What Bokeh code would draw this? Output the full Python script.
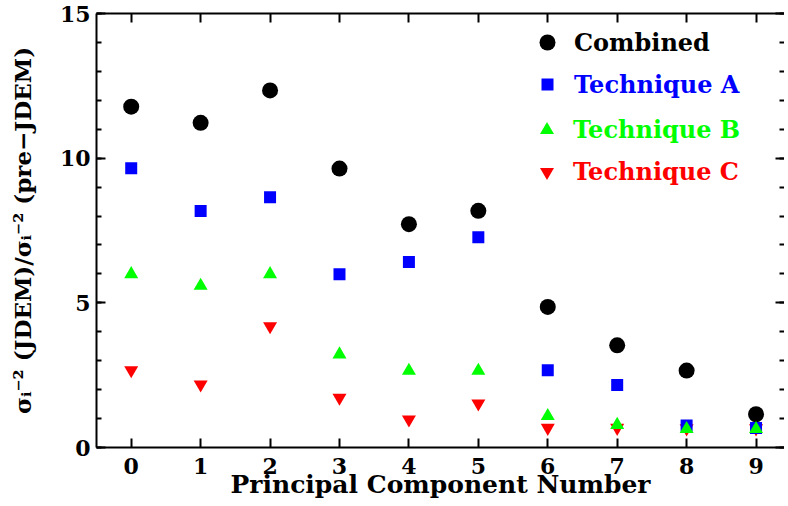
from bokeh.plotting import figure
from bokeh.models import (Range1d, LinearAxis, SingleIntervalTicker, FixedTicker,
                          Legend, LegendItem)
from bokeh.embed import file_html
from bokeh.resources import INLINE

# ---- data ----
components = [0, 1, 2, 3, 4, 5, 6, 7, 8, 9]
combined = [11.78, 11.22, 12.34, 9.64, 7.72, 8.18, 4.86, 3.53, 2.66, 1.15]
tech_a = [9.65, 8.17, 8.65, 5.99, 6.41, 7.27, 2.67, 2.16, 0.76, 0.67]
tech_b = [5.99, 5.59, 5.99, 3.22, 2.65, 2.65, 1.09, 0.78, 0.64, 0.64]
tech_c = [2.67, 2.18, 4.19, 1.72, 0.97, 1.52, 0.68, 0.68, 0.66, 0.66]
x_ticks = [0, 1, 2, 3, 4, 5, 6, 7, 8, 9]
series_names = ["Combined", "Technique A", "Technique B", "Technique C"]

FONT = "DejaVu Serif"

p = figure(frame_width=688, frame_height=434,
           x_range=Range1d(-0.5, 9.41), y_range=Range1d(0, 15),
           output_backend="svg", toolbar_location=None,
           min_border_left=96, min_border_right=0, min_border_top=13,
           min_border_bottom=0)
p.grid.visible = False
p.outline_line_color = None
p.background_fill_color = "white"
p.border_fill_color = "white"


def style_axis(ax, show_labels=True):
    ax.axis_line_width = 2
    ax.axis_line_color = "black"
    ax.major_tick_line_width = 2
    ax.minor_tick_line_width = 2
    ax.major_tick_in = 9
    ax.major_tick_out = 0
    ax.minor_tick_in = 5
    ax.minor_tick_out = 0
    ax.major_label_text_font = FONT
    ax.major_label_text_font_style = "bold"
    ax.major_label_text_font_size = "22px"
    ax.major_label_text_color = "black"
    ax.axis_label_text_color = "black"
    if not show_labels:
        ax.major_label_text_font_size = "0px"
        ax.major_label_text_color = None
        ax.major_label_standoff = 0


# bottom axis
xb = p.xaxis[0]
xb.ticker = FixedTicker(ticks=x_ticks, minor_ticks=[])
style_axis(xb)
xb.major_label_standoff = 10
xb.axis_label = "Principal Component Number"
xb.axis_label_text_font = FONT
xb.axis_label_text_font_style = "bold"
xb.axis_label_text_font_size = "25px"
xb.axis_label_standoff = -7

# left axis
yl = p.yaxis[0]
yl.ticker = SingleIntervalTicker(interval=5, num_minor_ticks=5)
style_axis(yl)
yl.major_label_standoff = 6
yl.axis_label = "σᵢ⁻² (JDEM)/σᵢ⁻² (pre−JDEM)"
yl.axis_label_text_font = FONT
yl.axis_label_text_font_style = "bold"
yl.axis_label_text_font_size = "23px"
yl.axis_label_standoff = 21

# top axis
xt = LinearAxis(ticker=FixedTicker(ticks=x_ticks, minor_ticks=[]))
style_axis(xt, show_labels=False)
p.add_layout(xt, "above")

# right axis (line falls outside the window in the reference)
yr = LinearAxis(ticker=SingleIntervalTicker(interval=5, num_minor_ticks=5))
style_axis(yr, show_labels=False)
yr.axis_line_color = None
p.add_layout(yr, "right")

# ---- data marks ----
r_c = p.scatter(components, tech_c, marker="inverted_triangle", size=14,
                fill_color="#ff0000", line_color=None)
r_comb = p.scatter(components, combined, marker="circle", size=16,
                   fill_color="black", line_color=None)
r_a = p.scatter(components, tech_a, marker="square", size=12,
                fill_color="#0000ff", line_color=None)
r_b = p.scatter(components, tech_b, marker="triangle", size=14,
                fill_color="#00ff00", line_color=None)

# ---- legend: one legend per entry, so each label gets its own colour ----
legend_specs = [
    (series_names[0], r_comb, "black", 40, (431, 385), 7),
    (series_names[1], r_a, "#0000ff", 30, (436, 348), 12),
    (series_names[2], r_b, "#00ff00", 35, (433, 300), 9),
    (series_names[3], r_c, "#ff0000", 35, (433, 258), 9),
]
for name, rend, col, gsize, loc, standoff in legend_specs:
    lg = Legend(items=[LegendItem(label=name, renderers=[rend])],
                location=loc, glyph_width=gsize, glyph_height=gsize,
                label_height=gsize, label_standoff=standoff,
                padding=0, margin=0, spacing=0,
                border_line_color=None, background_fill_alpha=0,
                label_text_color=col, label_text_font=FONT,
                label_text_font_style="bold", label_text_font_size="24px")
    p.add_layout(lg, "center")

open("out.html", "w").write(file_html(p, INLINE))
